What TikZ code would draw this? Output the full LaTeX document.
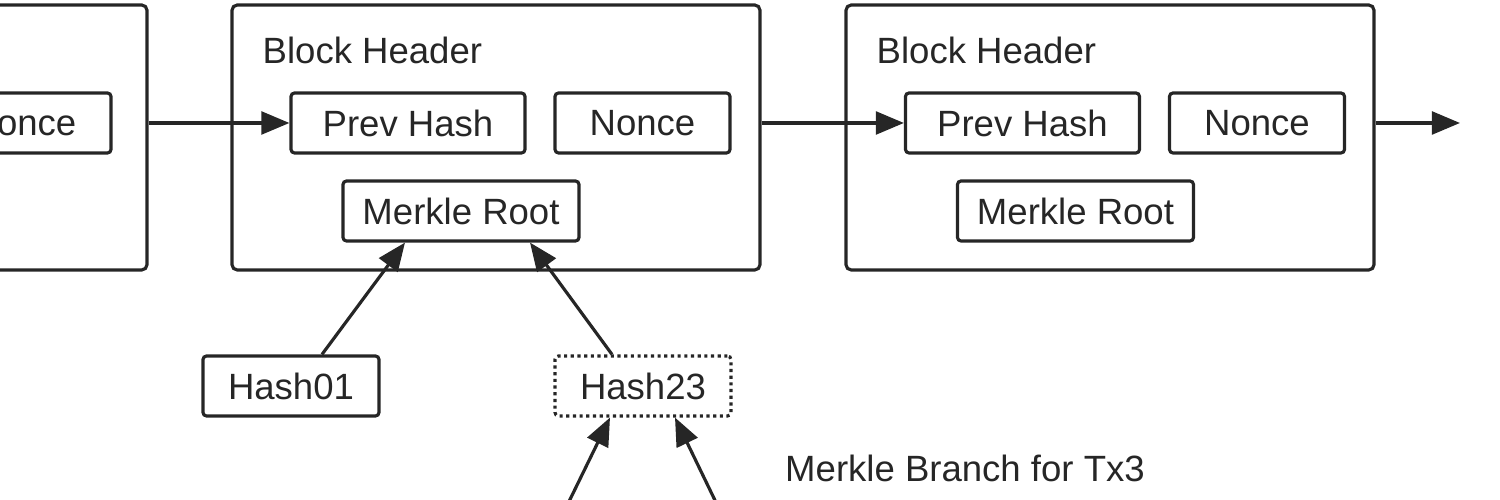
\documentclass[tikz,border=0pt]{standalone}
\usepackage{fontspec}
\setmainfont{Liberation Sans}
\usetikzlibrary{arrows.meta, positioning, calc}
\definecolor{lineink}{RGB}{38,38,38}

\begin{document}
\begin{tikzpicture}[
    block/.style={rectangle, draw=lineink, rounded corners=1.5pt, line width=0.9pt, minimum width=5.28cm, minimum height=2.65cm},
    field/.style={rectangle, draw=lineink, rounded corners=1pt, line width=0.9pt, minimum width=#1, minimum height=0.6cm, inner sep=0pt, font=\fontsize{10.4}{12}\selectfont, text=lineink},
    txt/.style={font=\fontsize{10.4}{12}\selectfont, text=lineink, inner sep=0pt},
    arrow/.style={-{Triangle[length=8pt, width=6.5pt]}, line width=0.9pt, draw=lineink}
]
\useasboundingbox (0,0) rectangle (15,5);
\clip (0,0) rectangle (15,5);

% Previous block (cut off)
\node[block] (blk0) at (-1.17, 3.625) {};
\node[field=1.75cm] (nonce0) at (0.235, 3.77) {Nonce};

% Middle block
\node[block] (blk1) at (4.96, 3.625) {};
\node[txt, anchor=west] at (2.62, 4.50) {Block Header};
\node[field=2.34cm] (prev1) at (4.08, 3.77) {Prev Hash};
\node[field=1.75cm] (nonce1) at (6.425, 3.77) {Nonce};
\node[field=2.36cm] (mroot1) at (4.61, 2.89) {Merkle Root};

% Next block
\node[block] (blk2) at (11.10, 3.625) {};
\node[txt, anchor=west] at (8.76, 4.50) {Block Header};
\node[field=2.34cm] (prev2) at (10.225, 3.77) {Prev Hash};
\node[field=1.75cm] (nonce2) at (12.57, 3.77) {Nonce};
\node[field=2.36cm] (mroot2) at (10.755, 2.89) {Merkle Root};
\coordinate (next) at (14.60, 3.77);

% Chain links
\draw[arrow] (blk0.east |- prev1) -- (prev1.west);
\draw[arrow] (blk1.east |- prev2) -- (prev2.west);
\draw[arrow] (blk2.east |- next) -- (next);

% Merkle branch
\node[field=1.76cm] (hash01) at (2.91, 1.14) {Hash01};
\node[field=1.76cm, densely dotted] (hash23) at (6.43, 1.14) {Hash23};
\coordinate (hash2) at (5.60, -0.20);
\coordinate (hash3) at (7.245, -0.20);
\draw[arrow] ($(hash01.north)+(0.31,0)$) -- ($(mroot1.south)+(-0.56,0)$);
\draw[arrow] ($(hash23.north)+(-0.31,0)$) -- ($(mroot1.south)+(0.69,0)$);
\draw[arrow] (hash2) -- ($(hash23.south)+(-0.33,0)$);
\draw[arrow] (hash3) -- ($(hash23.south)+(0.32,0)$);
\node[txt] (branch) at (9.65, 0.32) {Merkle Branch for Tx3};

\end{tikzpicture}
\end{document}
